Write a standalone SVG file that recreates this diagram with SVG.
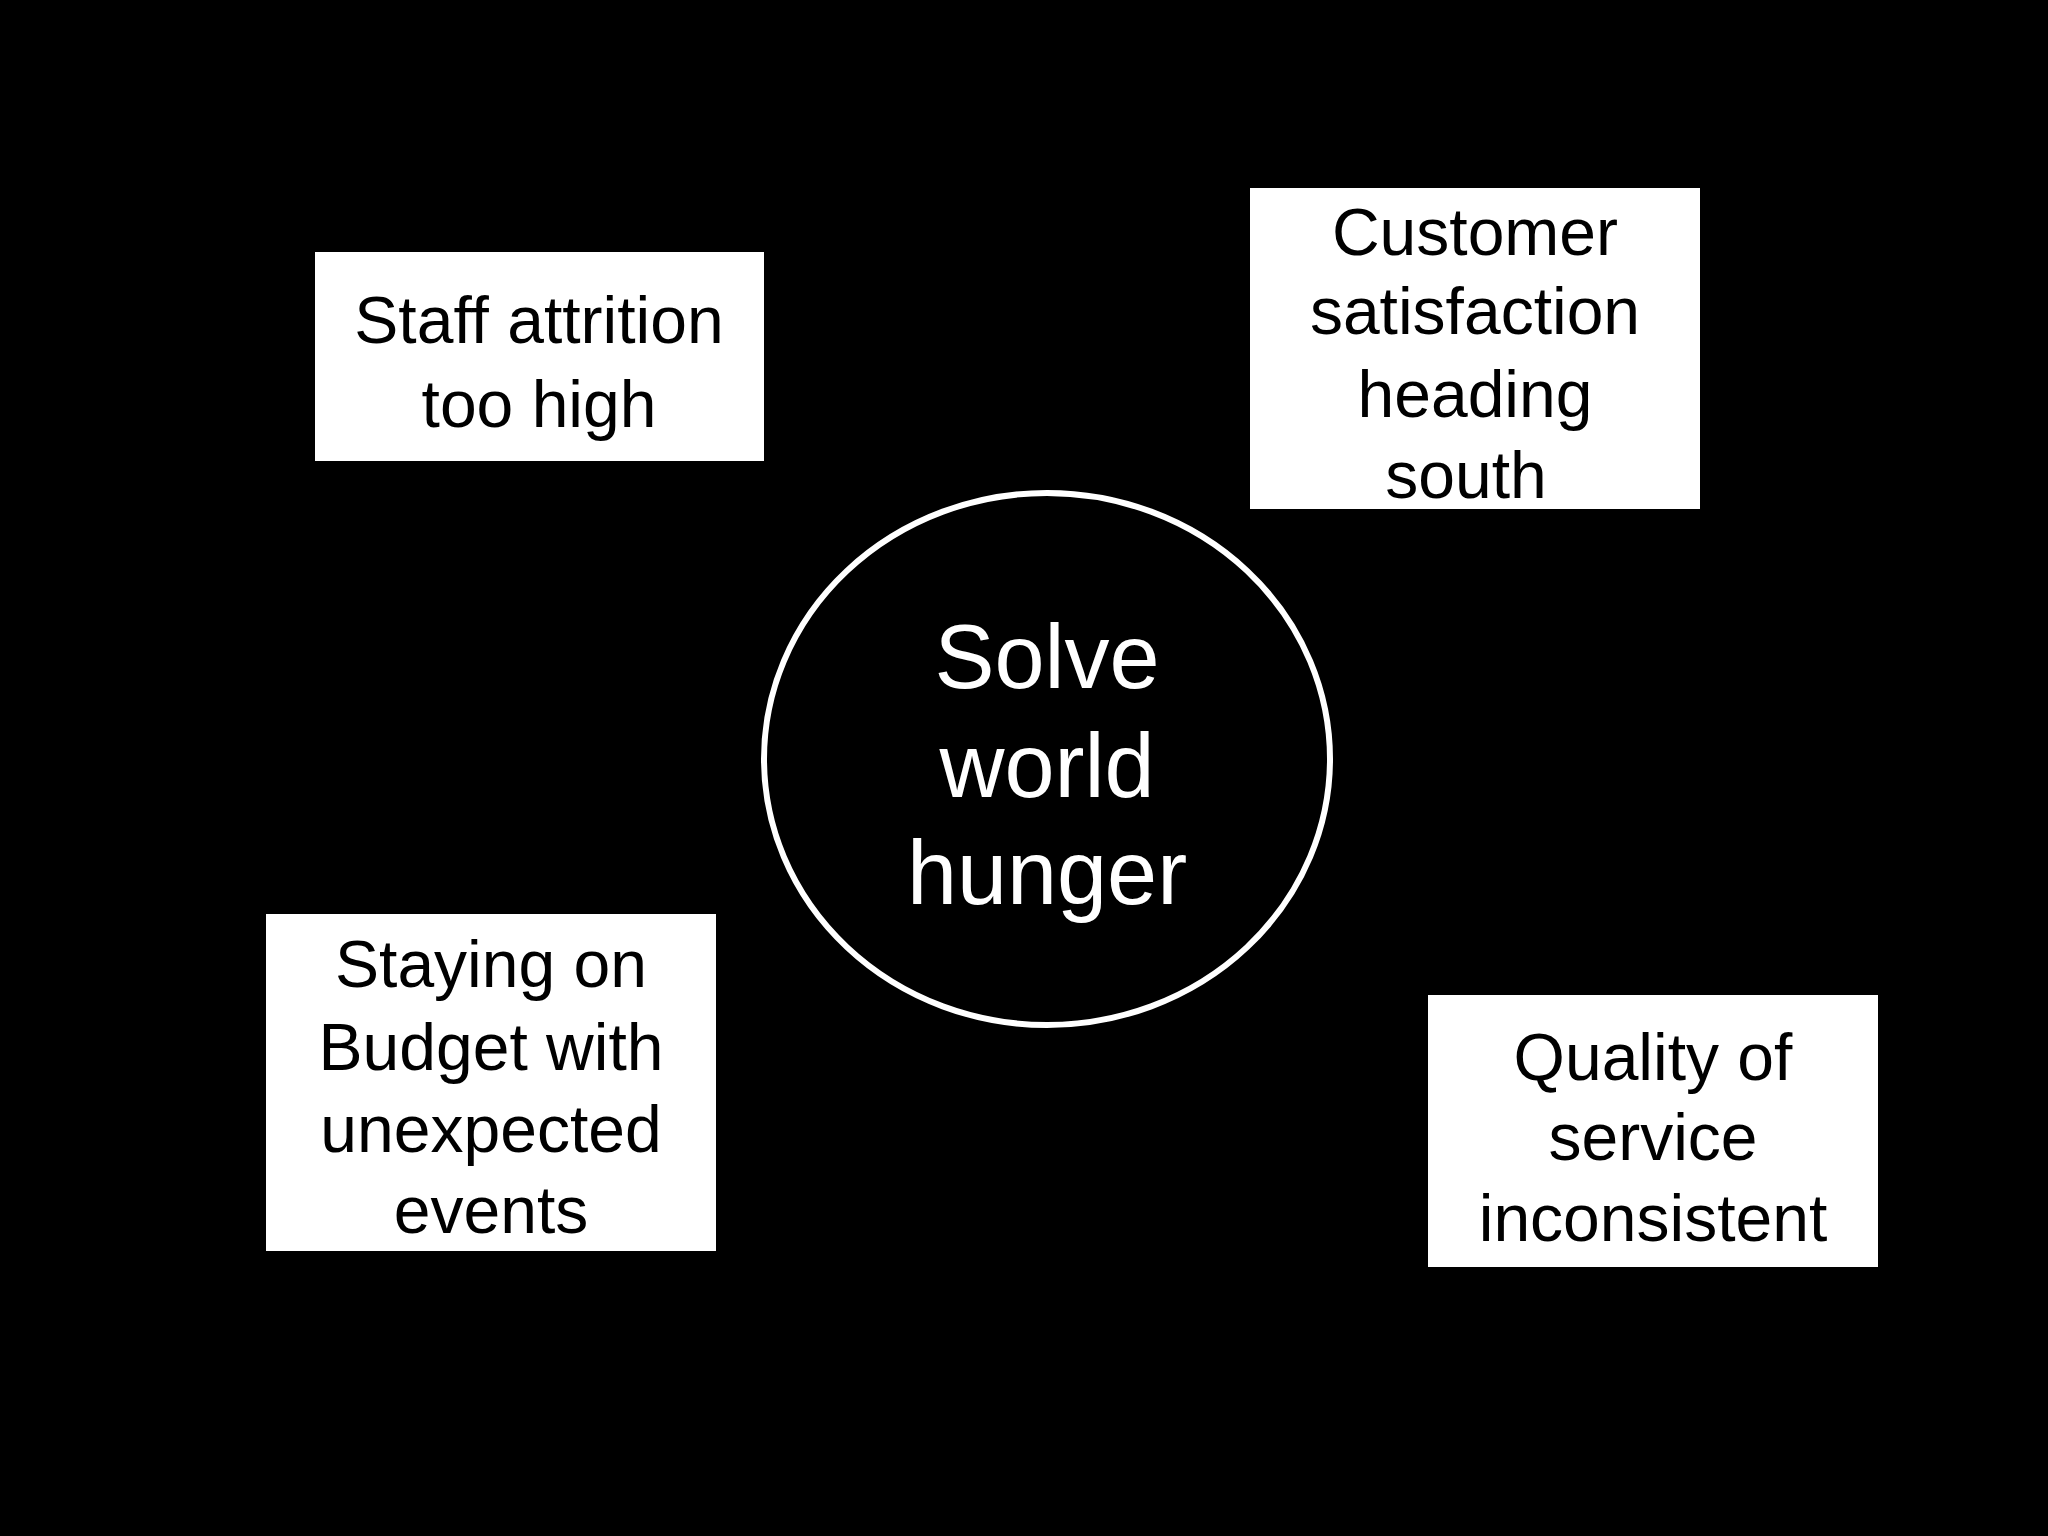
<svg xmlns="http://www.w3.org/2000/svg" width="2048" height="1536" viewBox="0 0 2048 1536">
<style>
.box{fill:#fff;stroke:none}
.t{font-family:"Liberation Sans",Arial,sans-serif;font-size:66px;fill:#000;text-anchor:middle}
.c{font-family:"Liberation Sans",Arial,sans-serif;font-size:90px;fill:#fff;text-anchor:middle}
</style>
<rect width="2048" height="1536" fill="#000"/>
<g id="connectors"></g>
<g id="center">
<ellipse cx="1047" cy="759" rx="283" ry="266" fill="#000" stroke="#fff" stroke-width="6"/>
<text class="c" x="1047" y="688">Solve</text>
<text class="c" x="1047" y="797">world</text>
<text class="c" x="1047" y="904">hunger</text>
</g>
<g id="staff">
<rect class="box" x="315" y="252" width="449" height="209"/>
<text class="t" x="539" y="343">Staff attrition</text>
<text class="t" x="539" y="427">too high</text>
</g>
<g id="customer">
<rect class="box" x="1250" y="188" width="450" height="321"/>
<text class="t" x="1475" y="255">Customer</text>
<text class="t" x="1475" y="334">satisfaction</text>
<text class="t" x="1475" y="417">heading</text>
<text class="t" x="1466" y="498">south</text>
</g>
<g id="budget">
<rect class="box" x="266" y="914" width="450" height="337"/>
<text class="t" x="491" y="987">Staying on</text>
<text class="t" x="491" y="1070">Budget with</text>
<text class="t" x="491" y="1152">unexpected</text>
<text class="t" x="491" y="1233">events</text>
</g>
<g id="quality">
<rect class="box" x="1428" y="995" width="450" height="272"/>
<text class="t" x="1653" y="1080">Quality of</text>
<text class="t" x="1653" y="1160">service</text>
<text class="t" x="1653" y="1241">inconsistent</text>
</g>
</svg>
